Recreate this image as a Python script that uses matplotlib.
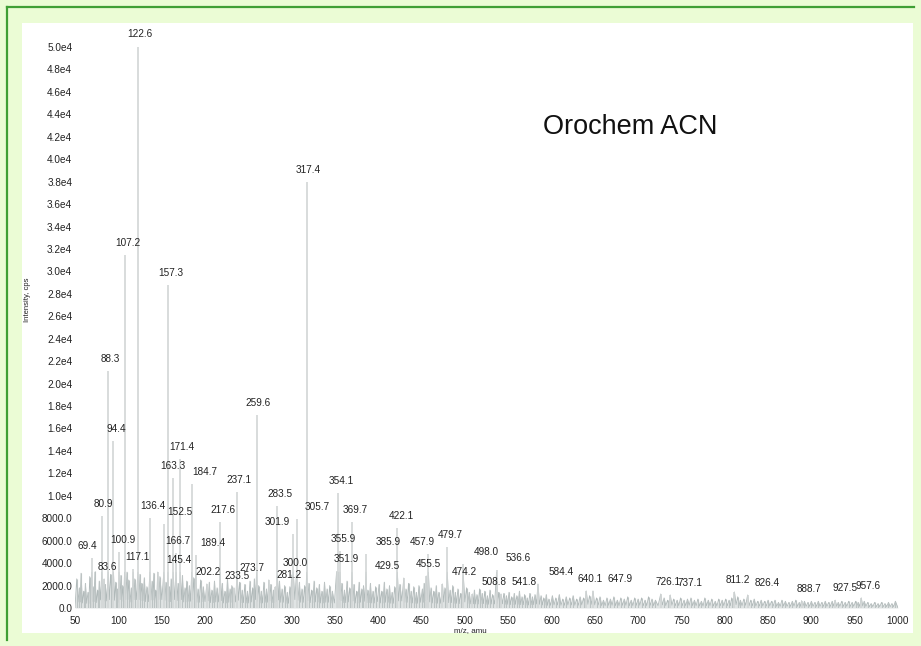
import numpy as np
import matplotlib
matplotlib.use("Agg")
import matplotlib.pyplot as plt
from matplotlib.patches import Rectangle

# ---------- data ----------
title = "Orochem ACN"

# labelled peaks: m/z and intensity (cps)
peak_mz = [69.4, 80.9, 83.6, 88.3, 94.4, 100.9, 107.2, 117.1, 122.6, 136.4,
           145.4, 152.5, 157.3, 163.3, 166.7, 171.4, 184.7, 189.4, 202.2, 217.6,
           233.5, 237.1, 259.6, 273.7, 281.2, 283.5, 300.0, 301.9, 305.7, 317.4,
           351.9, 354.1, 355.9, 369.7, 385.9, 422.1, 429.5, 455.5, 457.9, 474.2,
           479.7, 498.0, 508.8, 536.6, 541.8, 584.4, 640.1, 647.9, 726.1, 737.1,
           811.2, 826.4, 888.7, 927.5, 957.6]
peak_int = [4460, 8200, 2590, 21100, 14900, 4990, 31500, 3480, 50100, 8020,
            3210, 7490, 28800, 11600, 4900, 13300, 11050, 4720, 2140, 7670,
            1800, 10340, 17200, 2500, 1900, 9090, 2940, 6600, 7930, 38000,
            3300, 10250, 5080, 7670, 4810, 7130, 2670, 2850, 4810, 2140,
            5440, 3920, 1250, 3390, 1250, 2140, 1520, 1520, 1250, 1160,
            1430, 1160, 650, 700, 900]

# unlabelled background peaks
minor_mz = [52, 55, 57, 60, 62, 65, 67, 71, 73, 76, 78, 85, 91, 97, 99,
            103, 105, 110, 112, 115, 119, 125, 127, 130, 133, 139, 141, 143, 148,
            155, 159, 161, 169, 174, 177, 179, 182, 187, 192, 195, 198,
            205, 208, 211, 214, 220, 223, 226, 229, 231, 240, 243, 246, 249,
            252, 255, 257, 262, 265, 268, 271, 276, 279, 286, 289, 292, 295, 298,
            309, 312, 315, 320, 323, 326, 329, 332, 335, 338, 341, 344, 347,
            358, 361, 364, 367, 372, 375, 378, 381, 383, 388, 391, 394, 397,
            401, 404, 407, 410, 413, 416, 419, 425, 432, 435, 438, 441, 444, 447,
            451, 453, 461, 464, 467, 470, 477, 483, 486, 489, 492, 495,
            502, 505, 511, 514, 517, 520, 523, 526, 529, 532, 539, 545, 548,
            551, 554, 557, 560, 563, 566, 569, 572, 575, 578, 581, 588, 591, 594, 597,
            601, 605, 609, 613, 617, 621, 625, 629, 633, 637, 644,
            652, 656, 660, 664, 668, 672, 676, 680, 684, 688, 692, 696,
            700, 704, 708, 712, 716, 720, 730, 734, 741, 745, 749,
            753, 757, 761, 765, 769, 773, 777, 781, 785, 789, 793, 797,
            801, 805, 808, 815, 818, 822, 830, 834, 838, 842, 846,
            850, 854, 858, 862, 866, 870, 874, 878, 882, 886, 892, 896,
            900, 904, 908, 912, 916, 920, 924, 931, 935, 939, 943, 947, 951, 954,
            961, 965, 969, 973, 977, 981, 985, 989, 993, 997]
minor_int = [2600, 1800, 3100, 1500, 2200, 1400, 2800, 1900, 3300, 1600, 2400, 2100, 3000, 2300, 1700,
             2900, 2000, 3200, 2500, 1800, 2600, 3000, 2200, 2700, 1900, 2400, 3100, 1600, 2800,
             2300, 1900, 2600, 2200, 2900, 1800, 2400, 2000, 2700, 1700, 2500, 1900,
             2300, 1600, 2400, 1800, 2200, 1500, 2600, 1700, 2000, 2300, 1600, 2100, 1500,
             2400, 1800, 2600, 2000, 1500, 2300, 1700, 2100, 1600, 2400, 1700, 2000, 1400, 1900,
             2300, 1700, 2000, 2200, 1600, 2400, 1800, 2100, 1500, 2300, 1700, 2000, 1500,
             2200, 1600, 2400, 1800, 2100, 1500, 2300, 1700, 2000, 1600, 2200, 1500, 1900,
             2100, 1500, 2300, 1700, 2000, 1400, 1900, 2100, 1700, 2200, 1500, 1900, 1400, 2000,
             1700, 2200, 1800, 1500, 2000, 1400, 1800, 1600, 2000, 1400, 1700, 1300,
             1800, 1400, 1600, 1200, 1700, 1300, 1500, 1100, 1600, 1200, 1400, 1300, 1100,
             1400, 1000, 1300, 1100, 1500, 1000, 1200, 900, 1300, 1000, 1200, 1100, 900, 1200, 800,
             1100, 900, 1200, 800, 1000, 900, 1100, 800, 1000, 900, 1100,
             900, 1000, 700, 900, 800, 1000, 700, 900, 800, 1000, 700, 900,
             800, 900, 700, 1000, 800, 700, 900, 700, 800, 700, 900,
             700, 800, 900, 700, 800, 600, 900, 700, 800, 600, 800, 700,
             800, 700, 900, 1000, 700, 800, 700, 800, 600, 700, 600,
             700, 600, 700, 500, 700, 600, 500, 600, 700, 500, 600, 500,
             600, 500, 600, 500, 600, 500, 600, 500, 600, 500, 600, 500, 600, 500,
             600, 500, 400, 500, 400, 500, 400, 500, 400, 600]

ytick_vals = [0, 2000, 4000, 6000, 8000, 10000, 12000, 14000, 16000, 18000, 20000,
              22000, 24000, 26000, 28000, 30000, 32000, 34000, 36000, 38000, 40000,
              42000, 44000, 46000, 48000, 50000]
ytick_labels = ["0.0", "2000.0", "4000.0", "6000.0", "8000.0", "1.0e4", "1.2e4", "1.4e4",
                "1.6e4", "1.8e4", "2.0e4", "2.2e4", "2.4e4", "2.6e4", "2.8e4", "3.0e4",
                "3.2e4", "3.4e4", "3.6e4", "3.8e4", "4.0e4", "4.2e4", "4.4e4", "4.6e4",
                "4.8e4", "5.0e4"]
xtick_vals = [50, 100, 150, 200, 250, 300, 350, 400, 450, 500,
              550, 600, 650, 700, 750, 800, 850, 900, 950, 1000]

# horizontal nudge of each peak label (pixels) - the instrument software shifts
# labels sideways to dodge each other
label_dx = [-4, 2, 3, 2, 3, 4, 3, 4, 2, 3,
            21, 16, 3, 0, 2, 2, 13, 17, 1, 3,
            3, 2, 1, -17, 14, 3, 4, -16, 21, 2,
            10, 3, 3, 3, 22, 4, -16, 2, -6, 22,
            3, 23, 22, 22, 23, 23, 4, 27, 7, 20,
            3, 20, 7, 10, 7]

# ---------- figure ----------
plt.rcParams["font.family"] = ["Liberation Sans", "DejaVu Sans"]
W, H = 921, 646
fig = plt.figure(figsize=(W / 100, H / 100), dpi=100, facecolor="#ebfcd5")

def px(x0, y0, w, h):
    return [x0 / W, 1 - (y0 + h) / H, w / W, h / H]

# green frame (left + top) and white panel, kept behind the axes
fig.add_artist(Rectangle((22 / W, 1 - 633 / H), 891 / W, 610 / H, transform=fig.transFigure,
                         facecolor="white", edgecolor="none", zorder=-2))
fig.add_artist(plt.Line2D([6.5 / W, 6.5 / W], [1 - 7 / H, 1 - 640 / H],
                          color="#3f9f35", lw=1.6, zorder=-1))
fig.add_artist(plt.Line2D([6.5 / W, 914 / W], [1 - 7 / H, 1 - 7 / H],
                          color="#3f9f35", lw=1.6, zorder=-1))

ax = fig.add_axes(px(75, 47, 823, 561))
ax.set_zorder(2)
ax.set_xlim(50, 1000)
ax.set_ylim(0, 50000)
ax.patch.set_alpha(0)
for s in ax.spines.values():
    s.set_visible(False)

# background "grass": jagged profile through all peaks
all_mz = np.array(minor_mz + peak_mz, dtype=float)
all_int = np.array(minor_int + peak_int, dtype=float)
order = np.argsort(all_mz)
all_mz, all_int = all_mz[order], all_int[order]
prof_x, prof_y = [50.0], [0.0]
for i in range(len(all_mz)):
    if i > 0:
        prof_x.append((all_mz[i - 1] + all_mz[i]) / 2)
        prof_y.append(0.3 * min(all_int[i - 1], all_int[i], 2500))
    prof_x.append(all_mz[i])
    prof_y.append(min(all_int[i], 3200))
prof_x.append(1000.0)
prof_y.append(0.0)
ax.fill_between(prof_x, 0, prof_y, color="#e0e4e4", lw=0, zorder=1)
ax.plot(prof_x, prof_y, color="#b0b9b9", lw=0.6, zorder=2)

# minor peak sticks and labelled peak sticks
ax.vlines(minor_mz, 0, minor_int, color="#bcc3c3", lw=0.8, zorder=2)
ax.vlines(peak_mz, 0, peak_int, color="#d2d6d6", lw=1.2, zorder=3)

for mz, v, dx in zip(peak_mz, peak_int, label_dx):
    ax.annotate(f"{mz:.1f}", xy=(mz, v), xytext=(dx * 0.72, 5), textcoords="offset points",
                ha="center", va="bottom", fontsize=7.2, color="#222222",
                annotation_clip=False, zorder=4)

ax.set_yticks(ytick_vals)
ax.set_yticklabels(ytick_labels)
ax.set_xticks(xtick_vals)
ax.set_xticklabels([str(v) for v in xtick_vals])
ax.tick_params(axis="both", length=0, labelsize=7.2, colors="#222222")
ax.tick_params(axis="y", pad=2)
ax.tick_params(axis="x", pad=6)

fig.text(543 / W, 1 - 127 / H, title, fontsize=19.5, ha="left", va="center", color="#111111")
fig.text(27 / W, 1 - 300 / H, "Intensity, cps", rotation=90, fontsize=5.5,
         ha="center", va="center", color="#222222")
fig.text(470 / W, 1 - 631 / H, "m/z, amu", fontsize=5.8, ha="center", va="center", color="#222222")

fig.savefig("out.png", dpi=100, facecolor=fig.get_facecolor())
